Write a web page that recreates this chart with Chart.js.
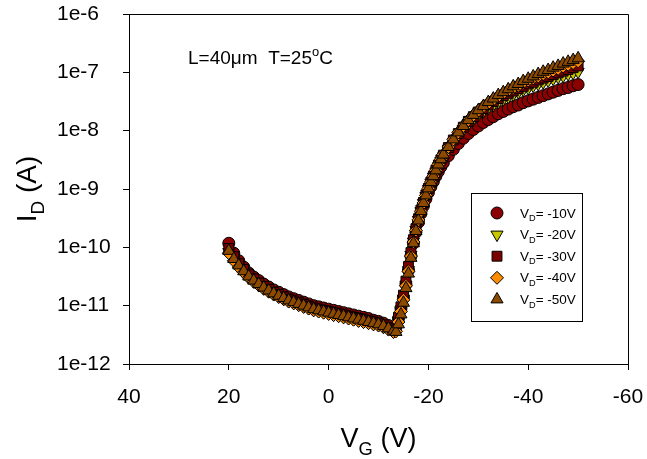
<!DOCTYPE html>
<html>
<head>
<meta charset="utf-8">
<script src="https://cdn.jsdelivr.net/npm/chart.js@4.4.1/dist/chart.umd.min.js"></script>
<style>
  html, body { margin: 0; padding: 0; background: #fff; }
</style>
</head>
<body>
<canvas id="idvg" width="647" height="459"></canvas>
<script>
Chart.defaults.font.family = "'Liberation Sans', Arial, sans-serif";
Chart.defaults.color = '#000';

// Gate voltage sweep (V)
const vg = [
  20, 19, 18, 17, 16, 15, 14, 13, 12, 11,
  10, 9, 8, 7, 6, 5, 4, 3, 2, 1,
  0, -1, -2, -3, -4, -5, -6, -7, -8, -9,
  -10, -11, -12, -13,
  -13.5, -14, -14.5, -15, -15.5, -16, -16.5, -17, -17.5, -18,
  -18.5, -19, -19.5, -20, -20.5, -21, -21.5, -22, -22.5, -23,
  -24, -25, -26, -27, -28, -29, -30, -31, -32, -33,
  -34, -35, -36, -37, -38, -39, -40, -41, -42, -43,
  -44, -45, -46, -47, -48, -49, -50
];

// log10(I_D / A), one array per drain voltage
const logIdVD10 = [
  -9.93, -10.10, -10.23, -10.34, -10.44, -10.51, -10.57, -10.63, -10.68, -10.73,
  -10.77, -10.81, -10.85, -10.88, -10.91, -10.94, -10.97, -11.00, -11.02, -11.04,
  -11.06, -11.08, -11.10, -11.12, -11.14, -11.16, -11.18, -11.20, -11.22, -11.25,
  -11.27, -11.30, -11.34, -11.39,
  -11.36, -11.22, -11.05, -10.86, -10.63, -10.39, -10.15, -9.93, -9.74, -9.57,
  -9.42, -9.29, -9.17, -9.06, -8.96, -8.87, -8.78, -8.70, -8.62, -8.55,
  -8.43, -8.32, -8.22, -8.13, -8.05, -7.98, -7.92, -7.86, -7.81, -7.76,
  -7.71, -7.67, -7.63, -7.59, -7.56, -7.52, -7.49, -7.46, -7.43, -7.40,
  -7.37, -7.34, -7.31, -7.28, -7.26, -7.23, -7.21
];
const logIdVD20 = [
  -10.08, -10.21, -10.32, -10.42, -10.51, -10.58, -10.64, -10.70, -10.75, -10.80,
  -10.84, -10.88, -10.92, -10.95, -10.98, -11.01, -11.04, -11.07, -11.09, -11.11,
  -11.13, -11.15, -11.17, -11.19, -11.21, -11.23, -11.25, -11.27, -11.29, -11.31,
  -11.33, -11.36, -11.40, -11.44,
  -11.42, -11.26, -11.08, -10.88, -10.64, -10.39, -10.13, -9.90, -9.70, -9.53,
  -9.38, -9.24, -9.12, -9.00, -8.89, -8.79, -8.70, -8.61, -8.52, -8.44,
  -8.31, -8.19, -8.08, -7.98, -7.89, -7.81, -7.73, -7.67, -7.61, -7.56,
  -7.51, -7.46, -7.42, -7.38, -7.34, -7.30, -7.27, -7.23, -7.20, -7.17,
  -7.14, -7.11, -7.08, -7.06, -7.03, -7.01, -6.99
];
const logIdVD30 = [
  -10.02, -10.16, -10.28, -10.38, -10.47, -10.54, -10.61, -10.67, -10.72, -10.77,
  -10.81, -10.85, -10.89, -10.92, -10.95, -10.98, -11.01, -11.04, -11.06, -11.08,
  -11.10, -11.12, -11.14, -11.16, -11.18, -11.20, -11.22, -11.24, -11.26, -11.28,
  -11.30, -11.33, -11.37, -11.41,
  -11.38, -11.20, -11.02, -10.82, -10.58, -10.33, -10.09, -9.87, -9.68, -9.51,
  -9.36, -9.23, -9.10, -8.99, -8.88, -8.78, -8.68, -8.59, -8.50, -8.42,
  -8.29, -8.16, -8.05, -7.94, -7.84, -7.76, -7.68, -7.62, -7.56, -7.50,
  -7.45, -7.40, -7.36, -7.32, -7.28, -7.24, -7.20, -7.17, -7.13, -7.10,
  -7.07, -7.04, -7.01, -6.98, -6.95, -6.92, -6.89
];
const logIdVD40 = [
  -10.10, -10.23, -10.34, -10.43, -10.52, -10.59, -10.65, -10.71, -10.76, -10.81,
  -10.85, -10.89, -10.93, -10.96, -10.99, -11.02, -11.05, -11.08, -11.10, -11.12,
  -11.14, -11.16, -11.18, -11.20, -11.22, -11.24, -11.26, -11.28, -11.30, -11.32,
  -11.34, -11.37, -11.41, -11.45,
  -11.44, -11.28, -11.10, -10.90, -10.66, -10.41, -10.15, -9.91, -9.71, -9.53,
  -9.38, -9.24, -9.11, -8.99, -8.88, -8.78, -8.68, -8.58, -8.49, -8.41,
  -8.28, -8.15, -8.03, -7.92, -7.82, -7.74, -7.66, -7.59, -7.53, -7.47,
  -7.41, -7.36, -7.31, -7.27, -7.23, -7.18, -7.14, -7.10, -7.07, -7.03,
  -7.00, -6.97, -6.94, -6.90, -6.87, -6.84, -6.81
];
const logIdVD50 = [
  -10.06, -10.20, -10.31, -10.41, -10.50, -10.57, -10.63, -10.69, -10.74, -10.79,
  -10.83, -10.87, -10.91, -10.94, -10.97, -11.00, -11.03, -11.06, -11.08, -11.10,
  -11.12, -11.14, -11.16, -11.18, -11.20, -11.22, -11.24, -11.26, -11.28, -11.30,
  -11.32, -11.35, -11.39, -11.43,
  -11.45, -11.32, -11.15, -10.95, -10.70, -10.45, -10.18, -9.93, -9.72, -9.54,
  -9.38, -9.24, -9.11, -8.99, -8.88, -8.78, -8.68, -8.58, -8.49, -8.41,
  -8.28, -8.15, -8.03, -7.92, -7.82, -7.73, -7.65, -7.58, -7.51, -7.45,
  -7.39, -7.34, -7.29, -7.24, -7.20, -7.15, -7.11, -7.07, -7.03, -6.99,
  -6.96, -6.92, -6.89, -6.85, -6.82, -6.79, -6.76
];

const vdLabels = ['-10V', '-20V', '-30V', '-40V', '-50V'];
const xTicks = [40, 20, 0, -20, -40, -60];
const yDecades = [-12, -11, -10, -9, -8, -7, -6];

// marker look per series (same order as vdLabels)
const markers = [
  { pointStyle: 'circle',   rotation: 0,   radius: 6,   color: '#8b0000' },
  { pointStyle: 'triangle', rotation: 180, radius: 7,   color: '#c8c800' },
  { pointStyle: 'rect',     rotation: 0,   radius: 7,   color: '#7a0000' },
  { pointStyle: 'rectRot',  rotation: 0,   radius: 6.5, color: '#ff8c00' },
  { pointStyle: 'triangle', rotation: 0,   radius: 7,   color: '#8b4a00' }
];

const seriesLogs = [logIdVD10, logIdVD20, logIdVD30, logIdVD40, logIdVD50];

function toPoints(logs) {
  return logs.map((v, i) => ({ x: vg[i], y: Math.pow(10, v) }));
}

const FONT = "'Liberation Sans', Arial, sans-serif";

// draw text pieces with sub/superscripts
function richText(ctx, parts, x, y, size, align) {
  const pieces = parts.map(p => {
    const s = p.sub || p.sup ? size * 0.68 : size;
    ctx.font = s + 'px ' + FONT;
    return { t: p.t, s: s, w: ctx.measureText(p.t).width, dy: p.sub ? size * 0.28 : (p.sup ? -size * 0.42 : 0) };
  });
  const total = pieces.reduce((a, p) => a + p.w, 0);
  let cx = align === 'center' ? x - total / 2 : x;
  ctx.textAlign = 'left';
  pieces.forEach(p => {
    ctx.font = p.s + 'px ' + FONT;
    ctx.fillText(p.t, cx, y + p.dy);
    cx += p.w;
  });
}

const decorations = {
  id: 'decorations',
  afterDraw(chart) {
    const ctx = chart.ctx, a = chart.chartArea;
    ctx.save();
    ctx.strokeStyle = '#000';
    ctx.lineWidth = 1;
    // top and right edges of the frame
    const L = Math.round(a.left - 0.5) + 0.5, R = Math.round(a.right - 0.5) + 0.5;
    const T = Math.round(a.top - 0.5) + 0.5, B = Math.round(a.bottom - 0.5) + 0.5;
    ctx.beginPath();
    ctx.moveTo(L, T); ctx.lineTo(R, T); ctx.lineTo(R, B);
    ctx.stroke();

    ctx.fillStyle = '#000';
    ctx.textBaseline = 'alphabetic';

    // axis titles
    richText(ctx, [{ t: 'V' }, { t: 'G', sub: true }, { t: ' (V)' }], (a.left + a.right) / 2, 447, 27, 'center');
    ctx.save();
    ctx.translate(36, (a.top + a.bottom) / 2);
    ctx.rotate(-Math.PI / 2);
    richText(ctx, [{ t: 'I' }, { t: 'D', sub: true }, { t: ' (A)' }], 0, 0, 28, 'center');
    ctx.restore();

    // annotation
    richText(ctx, [{ t: 'L=40\u03bcm  T=25' }, { t: 'o', sup: true }, { t: 'C' }], 188, 64, 19, 'left');

    // legend box
    ctx.strokeRect(471.5, 193.5, 111, 128);
    markers.forEach((m, i) => {
      const y = 213 + i * 21.6;
      ctx.fillStyle = m.color;
      ctx.strokeStyle = '#000';
      ctx.lineWidth = 1;
      Chart.helpers.drawPoint(ctx, { pointStyle: m.pointStyle, rotation: m.rotation, radius: m.radius, borderWidth: 1 }, 497, y);
      ctx.fillStyle = '#000';
      richText(ctx, [{ t: 'V' }, { t: 'D', sub: true }, { t: '= ' + vdLabels[i] }], 520, y + 4.5, 13.5, 'left');
    });
    ctx.restore();
  }
};

new Chart(document.getElementById('idvg'), {
  type: 'scatter',
  data: {
    datasets: seriesLogs.map((logs, i) => ({
      label: 'VD= ' + vdLabels[i],
      data: toPoints(logs),
      pointStyle: markers[i].pointStyle,
      rotation: markers[i].rotation,
      pointRadius: markers[i].radius,
      backgroundColor: markers[i].color,
      borderColor: '#000',
      borderWidth: 1,
      order: seriesLogs.length - 1 - i
    }))
  },
  options: {
    responsive: false,
    animation: false,
    layout: { padding: { left: 57, top: 14, right: 19, bottom: 0 } },
    scales: {
      x: {
        type: 'linear',
        reverse: true,
        min: -60, max: 40,
        afterBuildTicks: s => { s.ticks = xTicks.map(v => ({ value: v })); },
        afterFit: s => { s.height = 95; s.paddingLeft = 0; s.paddingRight = 0; },
        grid: { drawOnChartArea: false, tickLength: 6, color: '#000' },
        border: { color: '#000' },
        ticks: { padding: 15, maxRotation: 0, font: { size: 21 } }
      },
      y: {
        type: 'logarithmic',
        min: 1e-12, max: 1e-6,
        afterBuildTicks: s => { s.ticks = yDecades.map(e => ({ value: Math.pow(10, e) })); },
        afterFit: s => { s.width = 72; s.paddingTop = 0; s.paddingBottom = 0; },
        grid: { drawOnChartArea: false, tickLength: 6, color: '#000' },
        border: { color: '#000' },
        ticks: {
          crossAlign: 'far',
          font: { size: 21 },
          callback: v => '1e' + Math.round(Math.log10(v))
        }
      }
    },
    plugins: {
      legend: { display: false },
      tooltip: { enabled: false }
    }
  },
  plugins: [decorations]
});
</script>
</body>
</html>
